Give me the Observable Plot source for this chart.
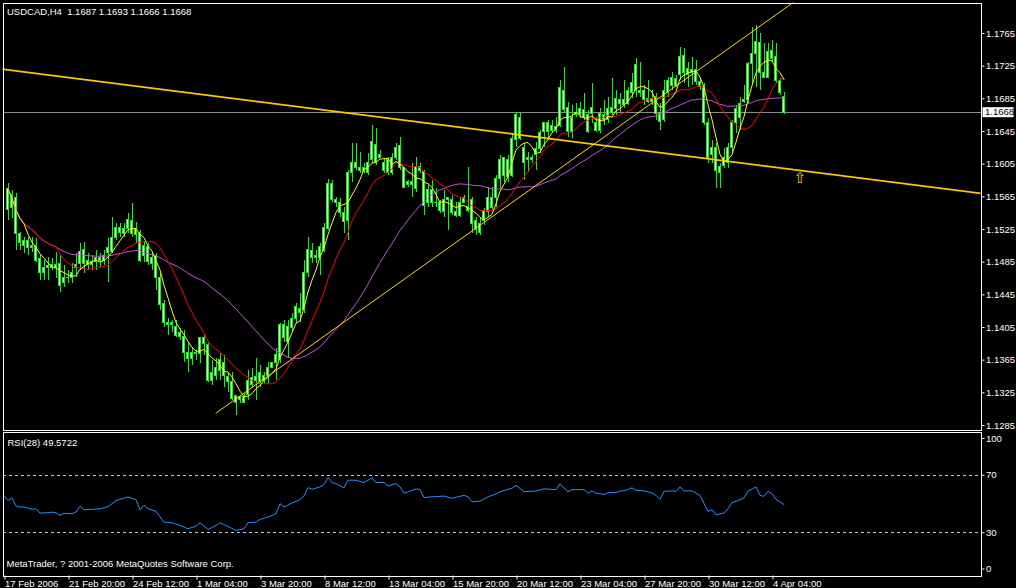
<!DOCTYPE html>
<html><head><meta charset="utf-8">
<script src="https://cdn.jsdelivr.net/npm/d3@7"></script>
<script src="https://cdn.jsdelivr.net/npm/@observablehq/plot@0.6"></script>
<style>
html,body{margin:0;padding:0;background:#000;}
#chart{position:relative;width:1016px;height:588px;background:#000;overflow:hidden;}
#chart svg{position:absolute;left:0;display:block;}
#chart svg text{white-space:pre;}
</style></head>
<body><div id="chart"></div>
<script>
// ---------- data ----------
const symbol = "USDCAD";
const timeframe = "H4";
const firstBar = 1;
const openP = [1.1549,1.1567,1.1564,1.1520,1.1511,1.1502,1.1505,1.1505,1.1489,1.1472,1.1478,1.1481,1.1478,1.1483,1.1459,1.1466,1.1465,1.1478,1.1483,1.1500,1.1486,1.1481,1.1485,1.1490,1.1486,1.1496,1.1497,1.1515,1.1527,1.1520,1.1526,1.1536,1.1518,1.1521,1.1493,1.1504,1.1483,1.1493,1.1466,1.1434,1.1410,1.1408,1.1406,1.1398,1.1393,1.1374,1.1367,1.1374,1.1373,1.1392,1.1383,1.1340,1.1346,1.1352,1.1362,1.1344,1.1338,1.1321,1.1316,1.1320,1.1322,1.1343,1.1340,1.1349,1.1340,1.1346,1.1356,1.1362,1.1365,1.1408,1.1387,1.1404,1.1416,1.1428,1.1426,1.1472,1.1499,1.1490,1.1490,1.1499,1.1526,1.1581,1.1561,1.1558,1.1545,1.1536,1.1594,1.1607,1.1600,1.1600,1.1594,1.1610,1.1628,1.1613,1.1606,1.1594,1.1613,1.1613,1.1627,1.1600,1.1579,1.1583,1.1575,1.1601,1.1595,1.1557,1.1573,1.1558,1.1557,1.1546,1.1561,1.1561,1.1546,1.1542,1.1557,1.1553,1.1561,1.1536,1.1521,1.1536,1.1546,1.1563,1.1564,1.1587,1.1612,1.1589,1.1591,1.1634,1.1662,1.1625,1.1610,1.1612,1.1616,1.1624,1.1644,1.1655,1.1646,1.1650,1.1652,1.1695,1.1674,1.1644,1.1665,1.1665,1.1671,1.1665,1.1667,1.1655,1.1646,1.1665,1.1659,1.1674,1.1673,1.1683,1.1677,1.1679,1.1692,1.1694,1.1695,1.1695,1.1685,1.1681,1.1687,1.1667,1.1659,1.1692,1.1701,1.1709,1.1714,1.1738,1.1714,1.1720,1.1720,1.1705,1.1699,1.1655,1.1616,1.1625,1.1601,1.1603,1.1607,1.1625,1.1655,1.1662,1.1681,1.1683,1.1728,1.1740,1.1753,1.1716,1.1711,1.1744,1.1736,1.1707,1.1687];
const highP = [1.1581,1.1573,1.1569,1.1521,1.1515,1.1515,1.1515,1.1514,1.1493,1.1487,1.1491,1.1490,1.1497,1.1493,1.1481,1.1475,1.1483,1.1496,1.1508,1.1509,1.1496,1.1493,1.1499,1.1496,1.1499,1.1514,1.1540,1.1532,1.1532,1.1532,1.1545,1.1557,1.1534,1.1524,1.1509,1.1508,1.1497,1.1496,1.1471,1.1438,1.1416,1.1414,1.1414,1.1404,1.1401,1.1387,1.1381,1.1377,1.1393,1.1395,1.1385,1.1365,1.1367,1.1373,1.1371,1.1350,1.1350,1.1322,1.1322,1.1324,1.1352,1.1355,1.1367,1.1359,1.1350,1.1362,1.1362,1.1379,1.1410,1.1414,1.1414,1.1422,1.1434,1.1447,1.1487,1.1515,1.1508,1.1499,1.1508,1.1532,1.1586,1.1585,1.1564,1.1563,1.1552,1.1597,1.1630,1.1630,1.1619,1.1606,1.1618,1.1652,1.1649,1.1622,1.1612,1.1613,1.1618,1.1630,1.1638,1.1601,1.1585,1.1606,1.1613,1.1606,1.1597,1.1579,1.1585,1.1575,1.1561,1.1573,1.1564,1.1567,1.1558,1.1563,1.1567,1.1601,1.1564,1.1540,1.1538,1.1551,1.1576,1.1576,1.1591,1.1616,1.1613,1.1616,1.1643,1.1668,1.1668,1.1630,1.1619,1.1616,1.1632,1.1646,1.1656,1.1659,1.1659,1.1662,1.1707,1.1723,1.1681,1.1677,1.1679,1.1681,1.1692,1.1671,1.1704,1.1662,1.1673,1.1683,1.1687,1.1710,1.1695,1.1692,1.1707,1.1699,1.1716,1.1734,1.1730,1.1701,1.1707,1.1695,1.1692,1.1679,1.1707,1.1711,1.1717,1.1714,1.1748,1.1747,1.1730,1.1736,1.1732,1.1710,1.1704,1.1661,1.1634,1.1630,1.1606,1.1624,1.1630,1.1659,1.1677,1.1687,1.1701,1.1730,1.1772,1.1775,1.1765,1.1753,1.1753,1.1756,1.1753,1.1710,1.1693];
const lowP = [1.1536,1.1538,1.1499,1.1499,1.1496,1.1493,1.1497,1.1485,1.1462,1.1462,1.1462,1.1475,1.1465,1.1448,1.1454,1.1459,1.1459,1.1466,1.1475,1.1471,1.1475,1.1475,1.1475,1.1478,1.1481,1.1460,1.1496,1.1511,1.1515,1.1515,1.1520,1.1515,1.1508,1.1485,1.1485,1.1481,1.1475,1.1450,1.1426,1.1405,1.1395,1.1399,1.1393,1.1389,1.1362,1.1350,1.1359,1.1365,1.1361,1.1371,1.1338,1.1334,1.1340,1.1340,1.1332,1.1326,1.1316,1.1297,1.1312,1.1312,1.1316,1.1332,1.1316,1.1332,1.1336,1.1336,1.1355,1.1340,1.1361,1.1387,1.1367,1.1399,1.1410,1.1411,1.1422,1.1466,1.1483,1.1483,1.1469,1.1497,1.1524,1.1558,1.1552,1.1540,1.1520,1.1512,1.1583,1.1597,1.1594,1.1594,1.1591,1.1606,1.1603,1.1612,1.1594,1.1591,1.1591,1.1610,1.1597,1.1575,1.1576,1.1564,1.1570,1.1594,1.1542,1.1552,1.1552,1.1552,1.1545,1.1540,1.1524,1.1542,1.1540,1.1540,1.1557,1.1546,1.1520,1.1518,1.1518,1.1530,1.1540,1.1548,1.1552,1.1575,1.1583,1.1583,1.1589,1.1625,1.1634,1.1585,1.1595,1.1606,1.1597,1.1618,1.1625,1.1634,1.1643,1.1643,1.1650,1.1667,1.1638,1.1636,1.1662,1.1661,1.1659,1.1643,1.1655,1.1644,1.1643,1.1652,1.1655,1.1665,1.1665,1.1668,1.1673,1.1677,1.1685,1.1687,1.1687,1.1677,1.1679,1.1677,1.1659,1.1646,1.1656,1.1687,1.1695,1.1699,1.1707,1.1704,1.1699,1.1701,1.1701,1.1695,1.1652,1.1606,1.1606,1.1575,1.1575,1.1600,1.1600,1.1618,1.1643,1.1646,1.1679,1.1679,1.1704,1.1699,1.1695,1.1710,1.1710,1.1730,1.1704,1.1689,1.1666];
const closeP = [1.1575,1.1551,1.1520,1.1509,1.1505,1.1511,1.1502,1.1487,1.1472,1.1478,1.1480,1.1478,1.1481,1.1456,1.1466,1.1465,1.1472,1.1482,1.1497,1.1483,1.1481,1.1485,1.1490,1.1487,1.1492,1.1502,1.1514,1.1527,1.1521,1.1526,1.1537,1.1520,1.1526,1.1487,1.1505,1.1485,1.1490,1.1466,1.1432,1.1410,1.1408,1.1410,1.1395,1.1393,1.1374,1.1367,1.1374,1.1373,1.1392,1.1385,1.1340,1.1349,1.1355,1.1365,1.1346,1.1338,1.1318,1.1313,1.1320,1.1313,1.1340,1.1334,1.1344,1.1338,1.1346,1.1356,1.1361,1.1371,1.1408,1.1392,1.1405,1.1416,1.1430,1.1423,1.1472,1.1500,1.1490,1.1492,1.1503,1.1527,1.1581,1.1561,1.1557,1.1545,1.1534,1.1594,1.1606,1.1600,1.1597,1.1595,1.1607,1.1632,1.1606,1.1616,1.1597,1.1610,1.1594,1.1625,1.1600,1.1576,1.1583,1.1580,1.1601,1.1597,1.1554,1.1573,1.1558,1.1557,1.1548,1.1561,1.1563,1.1545,1.1542,1.1558,1.1563,1.1548,1.1532,1.1524,1.1532,1.1548,1.1563,1.1551,1.1587,1.1610,1.1591,1.1610,1.1636,1.1665,1.1636,1.1607,1.1613,1.1610,1.1624,1.1643,1.1655,1.1644,1.1652,1.1646,1.1698,1.1671,1.1644,1.1662,1.1668,1.1673,1.1661,1.1644,1.1674,1.1646,1.1667,1.1659,1.1673,1.1668,1.1685,1.1679,1.1683,1.1694,1.1704,1.1726,1.1692,1.1683,1.1681,1.1685,1.1667,1.1656,1.1694,1.1707,1.1710,1.1701,1.1736,1.1716,1.1722,1.1716,1.1705,1.1699,1.1655,1.1613,1.1625,1.1597,1.1594,1.1612,1.1625,1.1655,1.1673,1.1679,1.1684,1.1728,1.1740,1.1754,1.1717,1.1710,1.1742,1.1734,1.1707,1.1692,1.1668];

const maPeriods = [5, 13, 34];
const maColors = ["#ffff00", "#ff0000", "#c050d8"];

const priceTicks = [1.1285,1.1325,1.1365,1.1405,1.1445,1.1485,1.1525,1.1565,1.1605,1.1645,1.1685,1.1725,1.1765];
const priceDomain = [1.12795, 1.18023];

const dateTickIdx = [0,16,32,48,64,80,96,112,128,144,160,176,192];
const dateTickLabels = ["17 Feb 2006","21 Feb 20:00","24 Feb 12:00","1 Mar 04:00","3 Mar 20:00","8 Mar 12:00","13 Mar 04:00","15 Mar 20:00","20 Mar 12:00","23 Mar 04:00","27 Mar 20:00","30 Mar 12:00","4 Apr 04:00"];

// trend lines (bar index, price)
const trendDownBar = [-1, 246];
const trendDownPrice = [1.17216, 1.15681];
const trendUpBar = [53, 200];
const trendUpPrice = [1.13002, 1.18123];
const arrowBar = [199];
const arrowPrice = [1.15881];

// RSI(28)
const rsiPeriod = 28;
const rsiIdx = [0,1,2,3,4,5,7,8,9,11,12,13,14,15,17,18,19,20,22,24,26,28,29,31,33,34,35,36,38,40,42,44,46,48,49,51,53,54,56,58,60,61,63,64,66,68,69,70,72,74,75,76,77,79,80,81,82,83,85,86,88,90,92,93,95,96,98,99,100,103,104,105,107,110,112,115,116,117,119,121,123,124,127,128,130,133,135,138,139,140,141,142,145,146,147,148,149,150,151,153,154,155,157,158,160,162,163,164,165,167,168,169,170,172,174,176,177,178,180,181,182,184,185,186,188,189,190,191,192,193,195];
const rsiVal = [55.6,52.5,54.2,48.6,47.9,47.9,46.3,46.7,43.7,43.9,44.4,43.9,42.1,43.5,43.3,44.4,48.4,46.0,46.3,46.7,48.1,52.3,53.2,54.9,53.0,46.0,49.1,46.7,44.9,37.4,37.0,35.1,32.8,34.6,37.0,32.3,35.1,37.0,34.4,31.6,32.8,37.0,37.4,39.3,40.9,43.2,50.2,47.9,50.7,53.0,55.6,61.4,60.2,61.9,63.5,68.4,64.9,64.2,61.2,66.5,66.5,64.9,68.1,64.9,64.9,62.6,64.2,61.9,57.5,60.5,60.0,54.5,55.0,55.5,54.0,56.0,55.0,51.5,52.0,55.0,57.0,58.5,61.0,63.0,58.5,59.0,60.5,60.0,64.0,61.0,58.5,60.0,60.0,57.5,59.0,57.5,57.2,56.5,57.9,57.9,59.1,59.1,61.2,59.5,59.1,57.7,56.0,53.2,58.8,59.1,58.8,61.9,59.1,59.1,56.0,44.9,46.0,42.5,43.7,46.7,50.9,53.0,54.2,58.8,61.9,56.0,55.3,58.8,57.2,53.2,49.5722];
const rsiLevels = [70, 30];
const rsiAxisTicks = [100, 70, 30, 0];

const copyright = "MetaTrader, ? 2001-2006 MetaQuotes Software Corp.";

// ---------- build ----------
const bars = openP.map((o, i) => ({j: firstBar + i, o, h: highP[i], l: lowP[i], c: closeP[i]}));
const last = bars[bars.length - 1];
const fmt4 = d3.format(".4f");
const header = `${symbol},${timeframe}\u00a0\u00a0${fmt4(last.o)} ${fmt4(last.h)} ${fmt4(last.l)} ${fmt4(last.c)}`;
const trendDown = trendDownBar.map((j, i) => ({j, p: trendDownPrice[i]}));
const trendUp = trendUpBar.map((j, i) => ({j, p: trendUpPrice[i]}));
const arrows = arrowBar.map((j, i) => ({j, p: arrowPrice[i]}));
const rsi = rsiIdx.map((j, i) => ({j, v: rsiVal[i]}));
const xDomain = [-0.25, 244.25];
const font = "'Liberation Sans', Arial, sans-serif";
const baseStyle = {background: "black", color: "white", fontFamily: font, fontSize: "9.5px", overflow: "visible"};

const main = Plot.plot({
  width: 1016, height: 431,
  marginLeft: 2.5, marginRight: 35.5, marginTop: 2.5, marginBottom: 1.5,
  style: baseStyle,
  x: {type: "linear", domain: xDomain, axis: null},
  y: {type: "linear", domain: priceDomain},
  marks: [
    Plot.ruleY([last.c], {stroke: "#8c8c8c", shapeRendering: "crispEdges"}),
    Plot.ruleX(bars, {x: "j", y1: "l", y2: "h", stroke: "#00ff00", shapeRendering: "crispEdges"}),
    Plot.rect(bars, {x1: d => d.j - 0.25, x2: d => d.j + 0.25, y1: "o", y2: "c", fill: "white", stroke: "#00ff00", shapeRendering: "crispEdges"}),
    ...maPeriods.slice().reverse().map((k, i) =>
      Plot.lineY(bars, Plot.windowY({k, anchor: "end"}, {x: "j", y: "c", stroke: maColors[maPeriods.length - 1 - i], strokeWidth: 1}))),
    Plot.line(trendDown, {x: "j", y: "p", stroke: "#ffc800", strokeWidth: 1.6, clip: true}),
    Plot.line(trendUp, {x: "j", y: "p", stroke: "#ffd700", strokeWidth: 1, clip: true}),
    Plot.text(arrows, {x: "j", y: "p", text: () => "\u21e7", fill: "#ffc800", fontSize: 15, fontFamily: "DejaVu Sans"}),
    Plot.frame({stroke: "white", shapeRendering: "crispEdges"}),
    Plot.axisY({anchor: "right", ticks: priceTicks, tickFormat: fmt4, tickSize: 3, tickPadding: 2, label: null}),
    Plot.text([header], {frameAnchor: "top-left", text: d => d, textAnchor: "start", lineAnchor: "bottom", dx: 4, dy: 11.5, fill: "white"})
  ]
});
main.style.top = "0px";

// current price label box on the price axis
{
  const yy = main.scale("y").apply(last.c);
  const s = d3.select(main);
  s.append("rect").attr("x", 982.5).attr("y", yy - 5).attr("width", 31).attr("height", 10).attr("fill", "white");
  s.append("text").attr("x", 985).attr("y", yy).attr("dy", "0.34em").attr("fill", "black")
    .attr("text-anchor", "start").attr("font-family", font).attr("font-size", "9.5px").text(fmt4(last.c));
}

const tickLabel = new Map(dateTickIdx.map((d, i) => [d, dateTickLabels[i]]));
const rsiPanel = Plot.plot({
  width: 1016, height: 157,
  marginLeft: 2.5, marginRight: 35.5, marginTop: 0.5, marginBottom: 12.5,
  style: baseStyle,
  x: {type: "linear", domain: xDomain},
  y: {type: "linear", domain: [0, 100]},
  marks: [
    Plot.ruleY(rsiLevels, {stroke: "#c8c8c8", strokeDasharray: "3,3", shapeRendering: "crispEdges"}),
    Plot.line(rsi, {x: "j", y: "v", stroke: "#1e90ff", strokeWidth: 1}),
    Plot.frame({stroke: "white", shapeRendering: "crispEdges"}),
    Plot.axisY(rsiAxisTicks.filter(d => d > 0 && d < 100), {anchor: "right", tickSize: 3, tickPadding: 2, label: null}),
    Plot.axisY([rsiAxisTicks[0]], {anchor: "right", tickSize: 3, tickPadding: 2, dy: 6.5, label: null}),
    Plot.axisY([rsiAxisTicks[3]], {anchor: "right", tickSize: 3, tickPadding: 2, dy: -7, label: null}),
    Plot.axisX(dateTickIdx, {anchor: "bottom", tickSize: 4, tickPadding: 0, tickFormat: d => tickLabel.get(d), textAnchor: "start", dx: 1, label: null}),
    Plot.text([`RSI(${rsiPeriod}) ${d3.format(".4f")(rsiVal[rsiVal.length - 1])}`], {frameAnchor: "top-left", text: d => d, textAnchor: "start", lineAnchor: "bottom", dx: 4.5, dy: 13.5, fill: "white"}),
    Plot.text([copyright], {frameAnchor: "bottom-left", text: d => d, textAnchor: "start", lineAnchor: "bottom", dx: 3.5, dy: -9.5, fill: "white"})
  ]
});
rsiPanel.style.top = "431px";

const root = document.getElementById("chart");
root.appendChild(main);
root.appendChild(rsiPanel);
</script>
</body></html>
